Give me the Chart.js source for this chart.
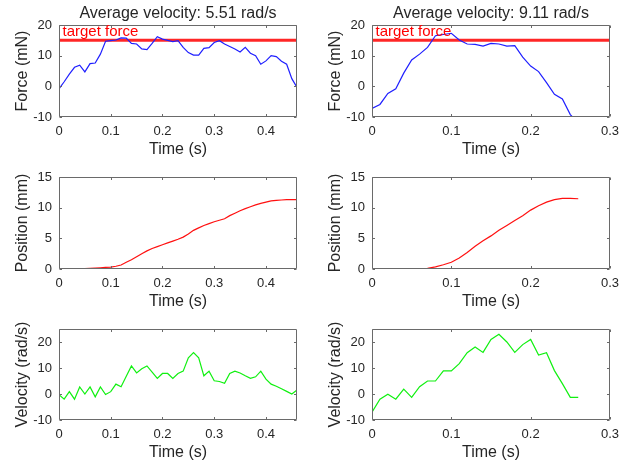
<!DOCTYPE html>
<html><head><meta charset="utf-8">
<script src="https://cdn.jsdelivr.net/npm/chart.js@4/dist/chart.umd.min.js"></script>
<style>
html,body{margin:0;padding:0;background:#fff;width:633px;height:465px;overflow:hidden;position:relative}
canvas{position:absolute}
</style></head><body>
<script>
// ---------- data ----------
const titleA = 'Average velocity: 5.51 rad/s';
const titleB = 'Average velocity: 9.11 rad/s';
const targetForce = 15;
const targetLabel = 'target force';
const targetLabelPos = [0, 17.7];

const timeA = [0,0.01,0.02,0.03,0.04,0.05,0.06,0.07,0.08,0.09,0.10,0.11,0.12,0.13,0.14,0.15,0.16,0.17,0.18,0.19,0.20,0.21,0.22,0.23,0.24,0.25,0.26,0.27,0.28,0.29,0.30,0.31,0.32,0.33,0.34,0.35,0.36,0.37,0.38,0.39,0.40,0.41,0.42,0.43,0.44,0.45,0.46];
const forceA = [-0.8,1.5,4,6.2,6.9,4.7,7.4,7.6,10.5,14.7,14.9,15.1,15.8,15.7,14,13.8,12.2,12,14,16.2,15.4,15,14.6,14.9,12.7,11,10.2,10.2,12.4,12.6,14.3,14.9,13.8,13,12.2,11.2,12.7,10.8,10,7.2,8.3,10,9.7,8.2,7.2,2.5,-0.4];
const velA = [-0.3,-2,0.9,-2,2.7,0,2.7,-1.1,2.7,-0.2,0.9,3.8,2.8,6.8,10.8,8.1,9.7,10.8,8.4,6,7.9,7.9,6,7.9,8.8,13.9,15.9,13.9,7,8.8,5.1,4.8,4.1,7.9,8.8,8.1,7,6,6.6,8.8,5.7,3.8,3,2,1,0,1.5];
const posTimeA = [0.04,0.05,0.06,0.07,0.08,0.09,0.10,0.11,0.12,0.13,0.14,0.15,0.16,0.17,0.18,0.19,0.20,0.21,0.22,0.23,0.24,0.25,0.26,0.27,0.28,0.29,0.30,0.31,0.32,0.33,0.34,0.35,0.36,0.37,0.38,0.39,0.40,0.41,0.42,0.43,0.44,0.45,0.46];
const posA = [0,0.05,0.1,0.15,0.2,0.25,0.3,0.45,0.65,1.1,1.5,2.0,2.5,2.95,3.35,3.65,3.95,4.25,4.55,4.85,5.2,5.7,6.3,6.7,7.1,7.4,7.7,7.95,8.2,8.7,9.1,9.5,9.85,10.15,10.45,10.7,10.9,11.1,11.2,11.25,11.3,11.3,11.3];

const timeB = [0,0.01,0.02,0.03,0.04,0.05,0.06,0.07,0.08,0.09,0.10,0.11,0.12,0.13,0.14,0.15,0.16,0.17,0.18,0.19,0.20,0.21,0.22,0.23,0.24,0.25,0.26];
const forceB = [-7.2,-5.9,-2.3,-0.8,4.3,8.6,10.5,12.7,16.5,16.9,17.3,15.1,13.8,13.7,13.1,14,13.8,13.1,13.3,9.5,6.6,4.8,1.2,-2.6,-4.1,-9.2,-12];
const velB = [-7,-2,-0.1,-2,1.9,-1.3,2.8,5,5,8.9,8.9,11.7,15.9,18.1,16,21,23,20,16,19,21,15,15.9,9,4,-1.3,-1.3];
const posTimeB = [0.06,0.07,0.08,0.09,0.10,0.11,0.12,0.13,0.14,0.15,0.16,0.17,0.18,0.19,0.20,0.21,0.22,0.23,0.24,0.25,0.26];
const posB = [0,0.1,0.35,0.7,1.1,1.8,2.7,3.7,4.6,5.4,6.3,7.1,7.9,8.7,9.6,10.3,10.9,11.3,11.5,11.5,11.45];

const xRangeA = [0, 0.46];
const xRangeB = [0, 0.3];
const xTicksA = [0, 0.1, 0.2, 0.3, 0.4];
const xTicksB = [0, 0.1, 0.2, 0.3];
const forceRange = [-10, 20], forceTicks = [-10, 0, 10, 20];
const posRange = [0, 15], posTicks = [0, 5, 10, 15];
const velRange = [-10, 25], velTicks = [-10, 0, 10, 20];

const xLabel = 'Time (s)';
const forceLabel = 'Force (mN)';
const posLabel = 'Position (mm)';
const velLabel = 'Velocity (rad/s)';

// ---------- style ----------
const FONT = "'Liberation Sans', Arial, Helvetica, sans-serif";
const textColor = '#262626';
const axisColor = '#6a6a6a';
const colLeft = [59, 372], colW = [238, 239];
const rowTop = [25, 177, 329], rowH = [92, 92, 91];
const Y_W = 59, X_H = 45, TOP = 25, RIGHT = 15;

const boxPlugin = {
  id: 'matlabBox',
  afterDatasetsDraw(chart, args, opts) {
    const {ctx, chartArea: a, scales: {x, y}} = chart;
    ctx.save();
    ctx.strokeStyle = axisColor;
    ctx.lineWidth = 1;
    const L = Math.round(a.left) + 0.5, R = Math.round(a.right) - 0.5;
    const T = Math.round(a.top) + 0.5, B = Math.round(a.bottom) - 0.5;
    ctx.beginPath();
    ctx.rect(L, T, R - L, B - T);
    const tl = 2.5;
    x.ticks.forEach(t => {
      const px = Math.round(x.getPixelForValue(t.value)) + 0.5;
      ctx.moveTo(px, B); ctx.lineTo(px, B - tl);
      ctx.moveTo(px, T); ctx.lineTo(px, T + tl);
    });
    y.ticks.forEach(t => {
      const py = Math.round(y.getPixelForValue(t.value)) + 0.5;
      ctx.moveTo(L, py); ctx.lineTo(L + tl, py);
      ctx.moveTo(R, py); ctx.lineTo(R - tl, py);
    });
    ctx.stroke();
    if (opts && opts.text) {
      ctx.fillStyle = 'rgb(255,0,0)';
      ctx.font = `15px ${FONT}`;
      ctx.textBaseline = 'middle';
      ctx.textAlign = 'left';
      ctx.fillText(opts.text, x.getPixelForValue(opts.pos[0]) + 3.5, y.getPixelForValue(opts.pos[1]));
    }
    ctx.restore();
  }
};

function makePanel(col, row, cfg) {
  const cv = document.createElement('canvas');
  const w = Y_W + colW[col] + RIGHT;
  const h = TOP + rowH[row] + X_H;
  cv.width = w; cv.height = h;
  cv.style.left = (colLeft[col] - Y_W) + 'px';
  cv.style.top = (rowTop[row] - TOP) + 'px';
  cv.style.width = w + 'px'; cv.style.height = h + 'px';
  document.body.appendChild(cv);

  const datasets = cfg.series.map(s => ({
    data: s.x.map((v, i) => ({x: v, y: s.y[i]})),
    borderColor: s.color,
    borderWidth: s.width,
    pointRadius: 0,
    tension: 0,
    fill: false
  }));

  const tickFont = {family: FONT, size: 13};
  const titleFont = {family: FONT, size: 16};
  const fmt = v => String(+(+v).toFixed(2));

  new Chart(cv, {
    type: 'line',
    data: {datasets},
    plugins: [boxPlugin],
    options: {
      responsive: false,
      animation: false,
      devicePixelRatio: 1,
      layout: {padding: {top: cfg.title ? 0 : TOP, right: RIGHT, left: 0, bottom: 0}},
      plugins: {
        legend: {display: false},
        tooltip: {enabled: false},
        title: cfg.title ? {
          display: true, text: cfg.title, color: textColor, fullSize: false,
          font: {family: FONT, size: 16, weight: 'normal', lineHeight: 1.2},
          padding: {top: 4.4, bottom: 1.4}
        } : {display: false},
        matlabBox: cfg.label ? {text: cfg.label, pos: targetLabelPos} : {}
      },
      scales: {
        x: {
          type: 'linear', min: cfg.xr[0], max: cfg.xr[1],
          afterBuildTicks: s => { s.ticks = cfg.xt.map(v => ({value: v})); },
          afterFit: s => { s.height = X_H; },
          grid: {display: false, drawTicks: false},
          border: {display: false},
          ticks: {color: textColor, font: tickFont, padding: 7, maxRotation: 0, autoSkip: false, callback: fmt},
          title: {display: true, text: xLabel, color: textColor, font: titleFont, padding: {top: 0, bottom: 2.5}}
        },
        y: {
          type: 'linear', min: cfg.yr[0], max: cfg.yr[1],
          afterBuildTicks: s => { s.ticks = cfg.yt.map(v => ({value: v})); },
          afterFit: s => { s.width = Y_W; },
          grid: {display: false, drawTicks: false},
          border: {display: false},
          ticks: {color: textColor, font: tickFont, padding: 7, autoSkip: false, callback: fmt},
          title: {display: true, text: cfg.ylabel, color: textColor, font: titleFont, padding: {top: 12.5, bottom: 0}}
        }
      }
    }
  });
}

const blue = '#1f1fff', red = '#ff1010', green = '#10f010';

makePanel(0, 0, {title: titleA, label: targetLabel, xr: xRangeA, xt: xTicksA, yr: forceRange, yt: forceTicks, ylabel: forceLabel,
  series: [{x: timeA, y: forceA, color: blue, width: 1.2},
           {x: xRangeA, y: [targetForce, targetForce], color: 'rgba(255,0,0,0.85)', width: 3}]});
makePanel(1, 0, {title: titleB, label: targetLabel, xr: xRangeB, xt: xTicksB, yr: forceRange, yt: forceTicks, ylabel: forceLabel,
  series: [{x: timeB, y: forceB, color: blue, width: 1.2},
           {x: xRangeB, y: [targetForce, targetForce], color: 'rgba(255,0,0,0.85)', width: 3}]});
makePanel(0, 1, {xr: xRangeA, xt: xTicksA, yr: posRange, yt: posTicks, ylabel: posLabel,
  series: [{x: posTimeA, y: posA, color: red, width: 1.2}]});
makePanel(1, 1, {xr: xRangeB, xt: xTicksB, yr: posRange, yt: posTicks, ylabel: posLabel,
  series: [{x: posTimeB, y: posB, color: red, width: 1.2}]});
makePanel(0, 2, {xr: xRangeA, xt: xTicksA, yr: velRange, yt: velTicks, ylabel: velLabel,
  series: [{x: timeA, y: velA, color: green, width: 1.2}]});
makePanel(1, 2, {xr: xRangeB, xt: xTicksB, yr: velRange, yt: velTicks, ylabel: velLabel,
  series: [{x: timeB, y: velB, color: green, width: 1.2}]});
</script>
</body></html>
